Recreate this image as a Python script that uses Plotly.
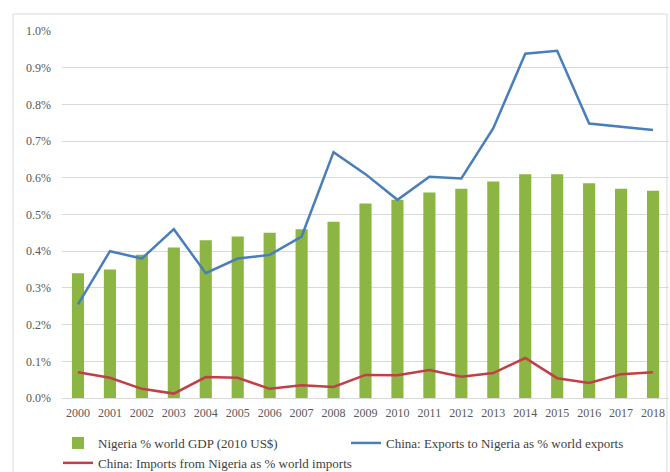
import plotly.graph_objects as go

years = [str(y) for y in range(2000, 2019)]
nigeria_gdp = [0.34, 0.35, 0.39, 0.41, 0.43, 0.44, 0.45, 0.46, 0.48, 0.53, 0.54,
               0.56, 0.57, 0.59, 0.61, 0.61, 0.585, 0.57, 0.565]
china_exports = [0.255, 0.40, 0.38, 0.46, 0.34, 0.38, 0.39, 0.44, 0.67, 0.61, 0.54,
                 0.603, 0.598, 0.735, 0.938, 0.946, 0.748, 0.74, 0.73]
china_imports = [0.07, 0.055, 0.025, 0.012, 0.057, 0.055, 0.025, 0.035, 0.03, 0.063, 0.062,
                 0.076, 0.058, 0.068, 0.109, 0.054, 0.041, 0.065, 0.07]
y_ticks = [0.0, 0.1, 0.2, 0.3, 0.4, 0.5, 0.6, 0.7, 0.8, 0.9, 1.0]
y_tick_labels = ["0.0%", "0.1%", "0.2%", "0.3%", "0.4%", "0.5%", "0.6%", "0.7%",
                 "0.8%", "0.9%", "1.0%"]

FONT = "'Liberation Serif', 'Times New Roman', 'DejaVu Serif', serif"

fig = go.Figure()
fig.add_trace(go.Bar(x=years, y=nigeria_gdp, name="Nigeria % world GDP (2010 US$)",
                     marker=dict(color="#8DB543", line=dict(width=0))))
fig.add_trace(go.Scatter(x=years, y=china_exports, mode="lines",
                         name="China: Exports to Nigeria as % world exports",
                         line=dict(color="#4A7EBB", width=2.5)))
fig.add_trace(go.Scatter(x=years, y=china_imports, mode="lines",
                         name="China: Imports from Nigeria as % world imports",
                         line=dict(color="#C0404A", width=2.5)))

fig.update_layout(
    width=670, height=472,
    margin=dict(l=62, r=1, t=31, b=74),
    paper_bgcolor="white", plot_bgcolor="white",
    bargap=0.62,
    font=dict(family=FONT, size=12, color="#595959"),
    showlegend=True,
    legend=dict(orientation="h", xref="container", x=58 / 670, xanchor="left",
                yref="container", y=(472 - 428) / 472, yanchor="top",
                entrywidth=243, entrywidthmode="pixels",
                font=dict(family=FONT, size=13, color="#404040"),
                itemwidth=30, tracegroupgap=0),
    xaxis=dict(type="category", showgrid=False, showline=True, linecolor="#D9D9D9",
               ticks="", ticklabelstandoff=4,
               tickfont=dict(family=FONT, size=12, color="#595959")),
    yaxis=dict(range=[0, 1.0], tickvals=y_ticks, ticktext=y_tick_labels,
               showgrid=True, gridcolor="#D9D9D9", gridwidth=1, zeroline=False,
               showline=False, ticks="", ticklabelstandoff=10,
               tickfont=dict(family=FONT, size=12, color="#595959")),
    shapes=[dict(type="rect", xref="paper", yref="paper",
                 x0=(13 - 62) / 607, x1=(667 - 62) / 607,
                 y0=(398 - 480) / 367, y1=(398 - 14) / 367,
                 line=dict(color="#D9D9D9", width=1), layer="below")],
)

fig.write_html("out.html")
